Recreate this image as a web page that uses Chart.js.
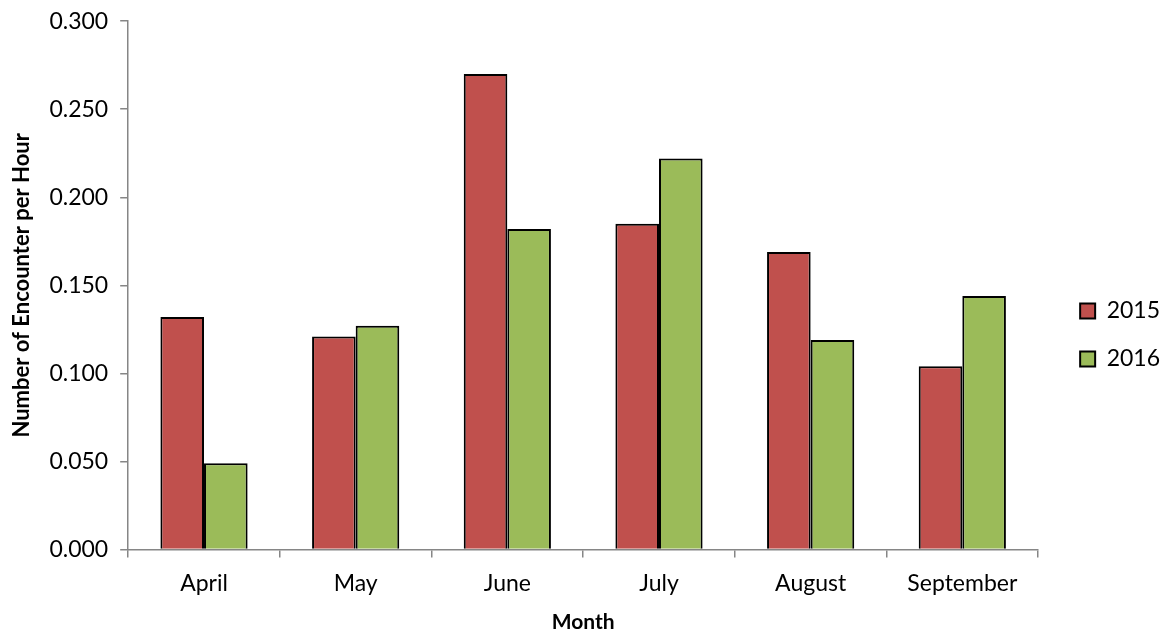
<!DOCTYPE html>
<html>
<head>
<meta charset="utf-8">
<script src="https://cdn.jsdelivr.net/npm/chart.js@4/dist/chart.umd.min.js"></script>
<style>
  html, body { margin: 0; padding: 0; background: #fff; }
  #wrap { width: 1162px; height: 637px; }
</style>
</head>
<body>
<div id="wrap"><canvas id="chart" width="1162" height="637"></canvas></div>
<script>
// chart values
const months = ['April', 'May', 'June', 'July', 'August', 'September'];
const values2015 = [0.132, 0.121, 0.270, 0.185, 0.169, 0.104];
const values2016 = [0.049, 0.127, 0.182, 0.222, 0.119, 0.144];
const yTicks = [0, 0.05, 0.10, 0.15, 0.20, 0.25, 0.30];

const axisGray = '#868686';
const fontFamily = 'Lato, "Open Sans", sans-serif';

Chart.defaults.font.family = fontFamily;
Chart.defaults.color = '#000';

const ctx = document.getElementById('chart').getContext('2d');

new Chart(ctx, {
    type: 'bar',
    data: {
        labels: months,
        datasets: [
            {
                label: '2015',
                data: values2015,
                backgroundColor: '#C0504D',
                borderColor: '#000',
                borderWidth: 2,
                yAxisID: 'y'
            },
            {
                label: '2016',
                data: values2016,
                backgroundColor: '#9BBB59',
                borderColor: '#000',
                borderWidth: 2,
                yAxisID: 'y'
            }
        ]
    },
    options: {
        responsive: false,
        animation: false,
        categoryPercentage: 0.575,
        barPercentage: 1.0,
        layout: { padding: { top: 8, right: -8, left: 9, bottom: 4 } },
        plugins: {
            legend: {
                position: 'right',
                align: 'center',
                // blank title only pushes the items down a little
                title: {
                    display: true,
                    text: ' ',
                    font: { size: 10, lineHeight: 1 },
                    padding: { top: 9.5, bottom: 9.5 }
                },
                labels: {
                    boxWidth: 15,
                    boxHeight: 15,
                    padding: 25,
                    font: { size: 23 },
                    color: '#000'
                }
            },
            tooltip: { enabled: false }
        },
        scales: {
            x: {
                offset: true,
                grid: {
                    offset: true,
                    drawOnChartArea: false,
                    drawTicks: true,
                    tickLength: 8,
                    color: axisGray,
                    lineWidth: 1.5
                },
                border: { color: axisGray, width: 1.5 },
                ticks: { font: { size: 23, lineHeight: 1 }, color: '#000', padding: 15 },
                title: {
                    display: true,
                    text: 'Month',
                    font: { size: 21, weight: 'bold', lineHeight: 1 },
                    color: '#000',
                    padding: { top: 1.5, bottom: 0 }
                }
            },
            y: {
                min: 0,
                max: 0.3,
                afterBuildTicks: (axis) => {
                    axis.ticks = yTicks.map(v => ({ value: v }));
                },
                grid: {
                    drawOnChartArea: false,
                    drawTicks: true,
                    tickLength: 8,
                    color: axisGray,
                    lineWidth: 1.5
                },
                border: { color: axisGray, width: 1.5 },
                ticks: {
                    font: { size: 23, lineHeight: 0.8 },
                    color: '#000',
                    padding: 12,
                    callback: (v) => Number(v).toFixed(3)
                },
                title: {
                    display: true,
                    text: 'Number of Encounter per Hour',
                    font: { size: 22, weight: 'bold' },
                    color: '#000',
                    padding: { top: 0, bottom: 2 }
                }
            },
            // empty right-hand scale, only keeps a gap between plot and legend
            gap: {
                axis: 'y',
                position: 'right',
                display: true,
                grid: { display: false },
                border: { display: false },
                ticks: { display: false },
                afterFit: (scale) => { scale.width = 17; }
            }
        }
    }
});
</script>
</body>
</html>
